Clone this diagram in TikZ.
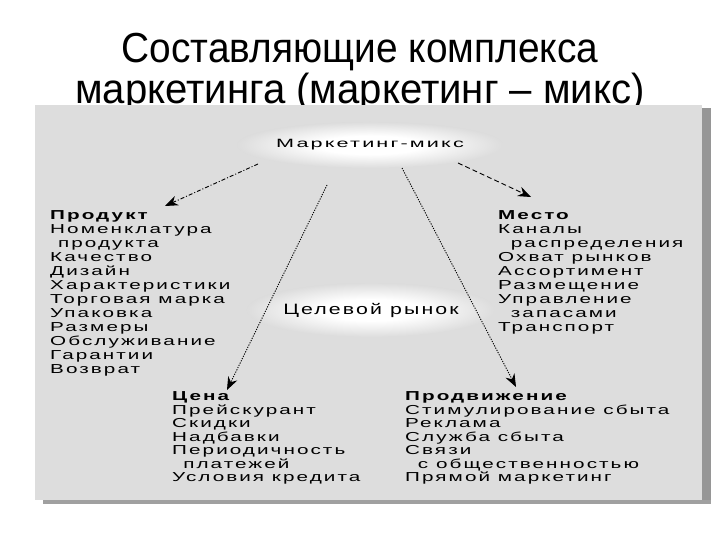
\documentclass[tikz,border=0pt]{standalone}
\usepackage{fontspec}
\setmainfont{Liberation Sans}
\newfontfamily\bodyfont[LetterSpace=10]{Liberation Sans}
\usetikzlibrary{arrows.meta,shapes.geometric}
\definecolor{panelgray}{RGB}{221,221,221}
\definecolor{edgegray}{RGB}{150,150,150}
\pgfdeclareradialshading{ellsh}{\pgfpoint{0bp}{0bp}}{color(0bp)=(white); color(10bp)=(white); color(40bp)=(black!27); color(50bp)=(black!42); color(75bp)=(black!42)}
\newcommand\blk[2]{\scalebox{#1}[1]{\begin{tabular}{@{}l@{}}#2\end{tabular}}}
\begin{document}
\begin{tikzpicture}[x=1pt,y=-1pt,
  titletext/.style={anchor=base, inner sep=0pt, font=\fontsize{42}{48}\selectfont},
  block/.style={anchor=north west, inner sep=0pt},
  blockfont/.style={font=\bodyfont\fontsize{13}{14}\selectfont},
  blockfontb/.style={font=\bodyfont\fontsize{13}{13.4}\selectfont},
  oval/.style={ellipse, draw=none, shading=ellsh, inner sep=0pt},
  tip/.style={-{Stealth[length=13pt,width=10pt]}, line width=0.9pt},
  dashdot/.style={tip, dash pattern=on 4pt off 2pt on 1pt off 2pt},
  dotline/.style={tip, dash pattern=on 1.2pt off 1.3pt},
  dashline/.style={tip, dash pattern=on 5pt off 3pt}]
\useasboundingbox (0,0) rectangle (720,540);
\fill[white] (0,0) rectangle (720,540);
% title
\node[titletext] (t1) at (360,63) {\scalebox{0.925}[1]{Составляющие комплекса}};
\node[titletext] (t2) at (360,104) {\scalebox{0.955}[1]{маркетинга (маркетинг – микс)}};
% panel
\fill[edgegray] (702,108) rectangle (711,504);
\fill[edgegray!90] (43,500) rectangle (711,504);
\fill[panelgray] (35,105) rectangle (702,500);
% ovals
\node[oval, minimum width=216pt, minimum height=46pt] (mm) at (370,145)
  {\bodyfont\fontsize{12}{13}\selectfont\scalebox{1.8}[1]{Маркетинг-микс}};
\node[oval, minimum width=238pt, minimum height=54pt] (tm) at (371,310)
  {\bodyfont\fontsize{15}{17}\selectfont\scalebox{1.42}[1]{Целевой рынок}};
% blocks
\node[block, blockfont] (prod) at (50,209.6) {\blk{1.59}{%
  \textbf{Продукт}\\
  Номенклатура\\
  \hspace*{5pt}продукта\\
  Качество\\
  Дизайн\\
  Характеристики\\
  Торговая марка\\
  Упаковка\\
  Размеры\\
  Обслуживание\\
  Гарантии\\
  Возврат}};
\node[block, blockfont] (place) at (498,209.6) {\blk{1.59}{%
  \textbf{Место}\\
  Каналы\\
  \hspace*{8pt}распределения\\
  Охват рынков\\
  Ассортимент\\
  Размещение\\
  Управление\\
  \hspace*{8pt}запасами\\
  Транспорт}};
\node[block, blockfontb] (price) at (172,391) {\blk{1.59}{%
  \textbf{Цена}\\
  Прейскурант\\
  Скидки\\
  Надбавки\\
  Периодичность\\
  \hspace*{7pt}платежей\\
  Условия кредита}};
\node[block, blockfontb] (promo) at (405,391) {\blk{1.59}{%
  \textbf{Продвижение}\\
  Стимулирование сбыта\\
  Реклама\\
  Служба сбыта\\
  Связи\\
  \hspace*{8pt}с общественностью\\
  Прямой маркетинг}};
% connectors
\coordinate (pS) at (258,164);
\coordinate (pT) at (165,206);
\coordinate (cS) at (327,185);
\coordinate (cT) at (227,390);
\coordinate (dS) at (402,168);
\coordinate (dT) at (516,387);
\coordinate (mS) at (458,163);
\coordinate (mT) at (531,197);
\draw[dashdot] (pS) -- (pT);
\draw[dotline] (cS) -- (cT);
\draw[dotline] (dS) -- (dT);
\draw[dashline] (mS) -- (mT);
\end{tikzpicture}
\end{document}
